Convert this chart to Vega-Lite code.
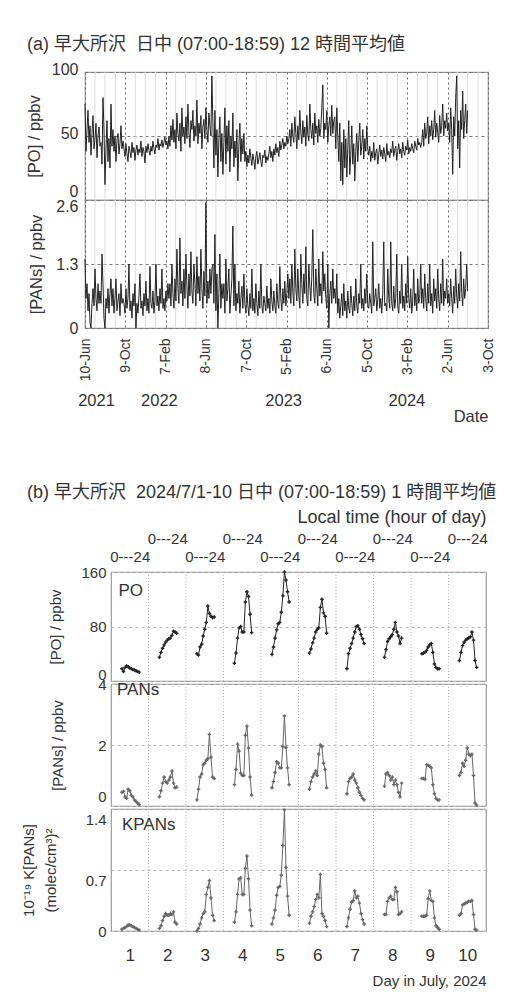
{
"$schema":"https://vega.github.io/schema/vega-lite/v6.json",
"background":"white",
"padding":{"left":20,"top":34,"right":0,"bottom":0},
"config":{
 "font":"Liberation Sans, Noto Sans CJK JP, sans-serif",
 "view":{"stroke":"#999","strokeWidth":1.2},
 "axis":{"ticks":false,"domain":false,"labelColor":"#333","titleColor":"#333","titleFontWeight":"normal","labelFontSize":15,"titleFontSize":15},
 "title":{"fontWeight":"normal","color":"#333","fontSize":18}
},
"datasets":{
"mg":[{"t":30},{"t":60},{"t":91},{"t":151},{"t":181},{"t":212},{"t":272},{"t":302},{"t":333},{"t":393},{"t":423},{"t":454},{"t":514},{"t":544},{"t":575},{"t":635},{"t":665},{"t":696},{"t":756},{"t":786},{"t":817},{"t":877},{"t":907},{"t":938},{"t":998},{"t":1028},{"t":1059},{"t":1119},{"t":1149},{"t":1180}],
"db":[{"x":2},{"x":3},{"x":4},{"x":5},{"x":6},{"x":7},{"x":8},{"x":9},{"x":10}],
"a":[
{"t":0,"p":75,"n":1.4},{"t":3,"p":38,"n":0.6},{"t":6,"p":55,"n":0.9},{"t":9,"p":70,"n":0.35},{"t":12,"p":45,"n":0.7},{"t":15,"p":58,"n":0.1},{"t":18,"p":35,"n":0},{"t":21,"p":52,"n":0.5},{"t":24,"p":66,"n":0.8},{"t":27,"p":40,"n":0.45},{"t":30,"p":48,"n":1.2},{"t":33,"p":60,"n":0.6},{"t":36,"p":33,"n":0.35},{"t":39,"p":50,"n":0.9},{"t":42,"p":57,"n":0.5},{"t":45,"p":42,"n":0.75},
{"t":48,"p":45,"n":0.5},{"t":51,"p":28,"n":1.5},{"t":54,"p":80,"n":0.9},{"t":57,"p":55,"n":0.2},{"t":60,"p":12,"n":0},{"t":63,"p":40,"n":0.6},{"t":66,"p":62,"n":0.4},{"t":69,"p":30,"n":0.8},{"t":72,"p":48,"n":0.3},{"t":75,"p":25,"n":0.7},{"t":78,"p":75,"n":1},
{"t":81,"p":42,"n":0.45},{"t":84,"p":55,"n":0.8},{"t":87,"p":38,"n":0.3},{"t":90,"p":50,"n":0.6},{"t":93,"p":30,"n":1},{"t":96,"p":47,"n":0.35},{"t":99,"p":52,"n":0.55},{"t":102,"p":36,"n":0.7},{"t":105,"p":44,"n":0.25},{"t":108,"p":58,"n":0.9},{"t":111,"p":40,"n":0.5},{"t":114,"p":46,"n":0.6},
{"t":117,"p":40,"n":0.5},{"t":120,"p":34,"n":0.3},{"t":123,"p":44,"n":0.8},{"t":126,"p":36,"n":0.4},{"t":129,"p":30,"n":0.6},{"t":132,"p":42,"n":1.3},{"t":135,"p":38,"n":0.35},{"t":138,"p":33,"n":0.55},{"t":141,"p":45,"n":0.2},{"t":144,"p":37,"n":0.7},
{"t":147,"p":41,"n":0.45},{"t":150,"p":31,"n":0.9},{"t":153,"p":39,"n":0},{"t":156,"p":43,"n":0.5},{"t":159,"p":35,"n":0.3},{"t":162,"p":40,"n":0.65},{"t":165,"p":37,"n":1.1},{"t":168,"p":46,"n":0.4},{"t":171,"p":34,"n":0.55},{"t":174,"p":41,"n":0.25},
{"t":177,"p":38,"n":0.7},{"t":180,"p":29,"n":0.45},{"t":183,"p":42,"n":0.95},{"t":186,"p":37,"n":0.35},{"t":189,"p":44,"n":0.6},{"t":192,"p":39,"n":0.3},{"t":195,"p":35,"n":1.25},{"t":198,"p":42,"n":0.5},{"t":201,"p":38,"n":0.4},{"t":204,"p":46,"n":0.75},
{"t":207,"p":40,"n":0.3},{"t":210,"p":36,"n":0.55},{"t":213,"p":43,"n":1.3},{"t":216,"p":41,"n":0.45},{"t":219,"p":48,"n":0.65},{"t":222,"p":39,"n":0.35},{"t":225,"p":44,"n":0.8},{"t":228,"p":42,"n":0.5},{"t":231,"p":47,"n":1.2},{"t":234,"p":41,"n":0.4},
{"t":237,"p":45,"n":0.6},{"t":240,"p":49,"n":0.35},{"t":243,"p":43,"n":0.75},{"t":246,"p":46,"n":0.55},{"t":249,"p":40,"n":0.9},
{"t":252,"p":50,"n":0.6},{"t":255,"p":42,"n":0.9},{"t":258,"p":58,"n":0.45},{"t":261,"p":47,"n":1.3},{"t":264,"p":63,"n":0.7},{"t":267,"p":45,"n":0.4},{"t":270,"p":55,"n":1},{"t":273,"p":40,"n":0.55},{"t":276,"p":68,"n":1.6},{"t":279,"p":52,"n":0.8},
{"t":282,"p":46,"n":0.5},{"t":285,"p":60,"n":1.83},{"t":288,"p":38,"n":0.7},{"t":291,"p":72,"n":0.95},{"t":294,"p":50,"n":0.45},{"t":297,"p":57,"n":1.2},{"t":300,"p":44,"n":0.6},{"t":303,"p":65,"n":1.5},{"t":306,"p":48,"n":0.85},{"t":309,"p":75,"n":0.4},
{"t":312,"p":53,"n":1.1},{"t":315,"p":41,"n":0.65},{"t":318,"p":62,"n":1.55},{"t":321,"p":55,"n":0.75},{"t":324,"p":70,"n":0.5},{"t":327,"p":46,"n":1.3},{"t":330,"p":58,"n":0.9},{"t":333,"p":50,"n":0.45},{"t":336,"p":78,"n":1.45},{"t":339,"p":44,"n":0.7},
{"t":342,"p":60,"n":1.05},{"t":345,"p":52,"n":0.55},{"t":348,"p":66,"n":1.6},{"t":351,"p":40,"n":0.8},{"t":354,"p":57,"n":0.4},{"t":357,"p":63,"n":1.15},{"t":360,"p":48,"n":0.65},{"t":363,"p":72,"n":2.55},{"t":366,"p":55,"n":0.5},{"t":369,"p":45,"n":0.95},
{"t":372,"p":68,"n":0.6},{"t":375,"p":58,"n":1.2},{"t":378,"p":50,"n":0.7},
{"t":381,"p":97,"n":1.2},
{"t":384,"p":60,"n":1.3},{"t":387,"p":25,"n":0.5},{"t":390,"p":70,"n":1.9},{"t":393,"p":35,"n":0.35},{"t":396,"p":55,"n":1.1},{"t":399,"p":18,"n":0},{"t":402,"p":48,"n":0.7},{"t":405,"p":65,"n":1.5},{"t":408,"p":30,"n":0.4},{"t":411,"p":52,"n":0.9},
{"t":414,"p":20,"n":0.6},{"t":417,"p":45,"n":0.9},{"t":420,"p":72,"n":0.3},{"t":423,"p":28,"n":1.4},{"t":426,"p":58,"n":0.55},{"t":429,"p":38,"n":0.8},{"t":432,"p":62,"n":1.2},{"t":435,"p":22,"n":0.3},{"t":438,"p":50,"n":0.65},{"t":441,"p":40,"n":1},
{"t":444,"p":68,"n":2.07},{"t":447,"p":26,"n":0.45},{"t":450,"p":46,"n":1.3},{"t":453,"p":33,"n":0.35},{"t":456,"p":55,"n":0.7},{"t":459,"p":15,"n":0.5},{"t":462,"p":42,"n":0.95},{"t":465,"p":60,"n":0.3},{"t":468,"p":30,"n":0.6},{"t":471,"p":48,"n":0.85},
{"t":474,"p":36,"n":0.4},{"t":477,"p":52,"n":1.1},
{"t":480,"p":30,"n":0.5},{"t":483,"p":38,"n":0.3},{"t":486,"p":26,"n":0.8},{"t":489,"p":35,"n":0.45},{"t":492,"p":29,"n":0.25},{"t":495,"p":40,"n":0.7},{"t":498,"p":33,"n":0.4},{"t":501,"p":27,"n":1.2},{"t":504,"p":36,"n":0.35},{"t":507,"p":31,"n":0.6},
{"t":510,"p":24,"n":0.3},{"t":513,"p":34,"n":0.9},{"t":516,"p":38,"n":0.5},{"t":519,"p":28,"n":0.25},{"t":522,"p":32,"n":0.75},{"t":525,"p":37,"n":0.4},{"t":528,"p":30,"n":1.3},{"t":531,"p":26,"n":0.45},{"t":534,"p":35,"n":0.3},{"t":537,"p":33,"n":0.65},
{"t":540,"p":39,"n":0.5},{"t":543,"p":29,"n":0.35},{"t":546,"p":34,"n":0.85},{"t":549,"p":31,"n":0.4},{"t":552,"p":36,"n":0.6},{"t":555,"p":42,"n":0.3},{"t":558,"p":33,"n":1},{"t":561,"p":38,"n":0.55},{"t":564,"p":30,"n":0.35},{"t":567,"p":40,"n":0.75},
{"t":570,"p":35,"n":0.45},{"t":573,"p":44,"n":0.3},{"t":576,"p":37,"n":0.9},{"t":579,"p":41,"n":0.5},{"t":582,"p":34,"n":0.4},{"t":585,"p":46,"n":1.25},{"t":588,"p":39,"n":0.6},{"t":591,"p":43,"n":0.35},{"t":594,"p":48,"n":0.8},{"t":597,"p":40,"n":0.5},
{"t":600,"p":45,"n":0.95},{"t":603,"p":42,"n":0.45},{"t":606,"p":50,"n":0.7},{"t":609,"p":44,"n":1.1},
{"t":612,"p":48,"n":0.6},{"t":615,"p":55,"n":1},{"t":618,"p":42,"n":0.5},{"t":621,"p":60,"n":1.3},{"t":624,"p":50,"n":0.75},{"t":627,"p":45,"n":0.45},{"t":630,"p":65,"n":1.6},{"t":633,"p":52,"n":0.8},{"t":636,"p":40,"n":0.55},{"t":639,"p":58,"n":1.2},
{"t":642,"p":47,"n":0.65},{"t":645,"p":70,"n":0.4},{"t":648,"p":53,"n":1.5},{"t":651,"p":44,"n":0.9},{"t":654,"p":62,"n":0.5},{"t":657,"p":49,"n":1.1},{"t":660,"p":57,"n":0.7},{"t":663,"p":42,"n":1.65},{"t":666,"p":66,"n":0.6},{"t":669,"p":51,"n":0.45},
{"t":672,"p":46,"n":1.3},{"t":675,"p":75,"n":0.85},{"t":678,"p":55,"n":0.55},{"t":681,"p":48,"n":1.05},{"t":684,"p":60,"n":2},{"t":687,"p":43,"n":0.7},{"t":690,"p":68,"n":0.5},{"t":693,"p":52,"n":1.2},{"t":696,"p":58,"n":0.8},{"t":699,"p":45,"n":0.45},
{"t":702,"p":63,"n":1.4},{"t":705,"p":50,"n":0.65},{"t":708,"p":56,"n":0.9},{"t":711,"p":72,"n":0.5},{"t":714,"p":90,"n":1.55},{"t":717,"p":48,"n":0.75},{"t":720,"p":60,"n":1.1},{"t":723,"p":55,"n":0.6},{"t":726,"p":70,"n":0.4},{"t":729,"p":45,"n":1.3},
{"t":732,"p":58,"n":0},{"t":735,"p":65,"n":0.7},{"t":738,"p":50,"n":0.95},{"t":741,"p":74,"n":0.5},{"t":744,"p":52,"n":1.2},{"t":747,"p":62,"n":0.6},
{"t":750,"p":65,"n":0.8},{"t":753,"p":40,"n":0.5},{"t":756,"p":72,"n":1.1},{"t":759,"p":50,"n":0.3},{"t":762,"p":30,"n":0.6},{"t":765,"p":60,"n":0.2},{"t":768,"p":15,"n":0.45},{"t":771,"p":45,"n":0.7},{"t":774,"p":12,"n":0.25},{"t":777,"p":55,"n":0.9},
{"t":780,"p":25,"n":0.35},{"t":783,"p":48,"n":0.55},{"t":786,"p":18,"n":0.2},{"t":789,"p":40,"n":0.75},{"t":792,"p":62,"n":0.4},{"t":795,"p":20,"n":0.3},{"t":798,"p":35,"n":0.85},{"t":801,"p":58,"n":0.5},{"t":804,"p":28,"n":0.25},{"t":807,"p":44,"n":0.65},
{"t":810,"p":15,"n":0.35},{"t":813,"p":38,"n":1},{"t":816,"p":52,"n":0.45},{"t":819,"p":30,"n":0.3},{"t":822,"p":46,"n":0.7},{"t":825,"p":60,"n":0.5},{"t":828,"p":35,"n":1.3},{"t":831,"p":42,"n":0.4},{"t":834,"p":55,"n":0.6},{"t":837,"p":32,"n":0.35},
{"t":840,"p":48,"n":0.8},{"t":843,"p":38,"n":0.5},{"t":846,"p":58,"n":1.1},{"t":849,"p":40,"n":0.45},
{"t":852,"p":35,"n":0.4},{"t":855,"p":42,"n":0.7},{"t":858,"p":30,"n":0.5},{"t":861,"p":38,"n":0.3},{"t":864,"p":33,"n":1.75},{"t":867,"p":45,"n":0.45},{"t":870,"p":31,"n":0.6},{"t":873,"p":37,"n":0.8},{"t":876,"p":40,"n":0.35},{"t":879,"p":28,"n":0.55},
{"t":882,"p":36,"n":0.9},{"t":885,"p":43,"n":0.4},{"t":888,"p":34,"n":0.6},{"t":891,"p":39,"n":0.3},{"t":894,"p":32,"n":0.7},{"t":897,"p":41,"n":1.75},{"t":900,"p":36,"n":0.45},{"t":903,"p":30,"n":0.5},{"t":906,"p":44,"n":0.35},{"t":909,"p":35,"n":1.2},
{"t":912,"p":38,"n":0.6},{"t":915,"p":33,"n":0.4},{"t":918,"p":40,"n":1.75},{"t":921,"p":37,"n":0.5},{"t":924,"p":46,"n":0.35},{"t":927,"p":34,"n":0.85},{"t":930,"p":39,"n":0.4},{"t":933,"p":42,"n":0.6},{"t":936,"p":31,"n":1.5},{"t":939,"p":38,"n":0.45},
{"t":942,"p":44,"n":0.3},{"t":945,"p":36,"n":0.75},{"t":948,"p":40,"n":0.5},{"t":951,"p":33,"n":1.3},{"t":954,"p":45,"n":0.4},{"t":957,"p":38,"n":0.65},{"t":960,"p":35,"n":0.35},{"t":963,"p":42,"n":0.9},{"t":966,"p":39,"n":0.5},{"t":969,"p":47,"n":1.45},
{"t":972,"p":36,"n":0.6},{"t":975,"p":41,"n":0.4},{"t":978,"p":38,"n":0.8},{"t":981,"p":44,"n":0.3},{"t":984,"p":40,"n":0.55},{"t":987,"p":37,"n":1.2},{"t":990,"p":46,"n":0.45},{"t":993,"p":42,"n":0.7},{"t":996,"p":39,"n":0.35},{"t":999,"p":48,"n":1},
{"t":1002,"p":43,"n":0.5},{"t":1005,"p":45,"n":0.6},{"t":1008,"p":41,"n":1.3},
{"t":1011,"p":45,"n":0.5},{"t":1014,"p":55,"n":0.8},{"t":1017,"p":42,"n":0.4},{"t":1020,"p":60,"n":1.1},{"t":1023,"p":48,"n":0.6},{"t":1026,"p":52,"n":0.35},{"t":1029,"p":65,"n":0.9},{"t":1032,"p":44,"n":0.5},{"t":1035,"p":58,"n":1.3},{"t":1038,"p":50,"n":0.45},
{"t":1041,"p":62,"n":0.7},{"t":1044,"p":47,"n":0.3},{"t":1047,"p":55,"n":1},{"t":1050,"p":70,"n":0.55},{"t":1053,"p":49,"n":0.8},{"t":1056,"p":60,"n":0.4},{"t":1059,"p":53,"n":1.2},{"t":1062,"p":45,"n":0.6},{"t":1065,"p":66,"n":0.35},{"t":1068,"p":52,"n":0.9},
{"t":1071,"p":58,"n":0.5},{"t":1074,"p":75,"n":1.4},{"t":1077,"p":50,"n":0.45},{"t":1080,"p":62,"n":0.75},{"t":1083,"p":56,"n":0.6},{"t":1086,"p":68,"n":1},{"t":1089,"p":54,"n":0.5},
{"t":1092,"p":60,"n":0.7},{"t":1095,"p":45,"n":0.45},{"t":1098,"p":72,"n":1},{"t":1101,"p":55,"n":0.6},{"t":1104,"p":20,"n":0.3},{"t":1107,"p":65,"n":0.85},{"t":1110,"p":50,"n":0.5},{"t":1113,"p":80,"n":1.2},{"t":1116,"p":97,"n":0.65},{"t":1119,"p":40,"n":0.4},
{"t":1122,"p":62,"n":0.9},{"t":1125,"p":25,"n":0.55},{"t":1128,"p":70,"n":1.55},{"t":1131,"p":55,"n":0.7},{"t":1134,"p":85,"n":0.45},{"t":1137,"p":48,"n":1},{"t":1140,"p":62,"n":0.6},{"t":1143,"p":75,"n":0.8},{"t":1146,"p":52,"n":1.3},{"t":1149,"p":70,"n":0.75}
],
"b":[
{"d":1,"x":1.292,"po":18,"pa":0.45,"k":0.02},{"d":1,"x":1.333,"po":14,"pa":0.48,"k":0.03},{"d":1,"x":1.375,"po":20,"pa":0.3,"k":0.04},{"d":1,"x":1.417,"po":22,"pa":0.25,"k":0.05},{"d":1,"x":1.458,"po":21,"pa":0.55,"k":0.07},{"d":1,"x":1.5,"po":19,"pa":0.5,"k":0.07},{"d":1,"x":1.542,"po":18,"pa":0.35,"k":0.06},{"d":1,"x":1.583,"po":17,"pa":0.3,"k":0.05},{"d":1,"x":1.625,"po":16,"pa":0.2,"k":0.04},{"d":1,"x":1.667,"po":15,"pa":0.15,"k":0.03},{"d":1,"x":1.708,"po":14,"pa":0.1,"k":0.02},{"d":1,"x":1.75,"po":13,"pa":0.05,"k":0.01},
{"d":2,"x":2.292,"po":35,"pa":0.3,"k":0.03},{"d":2,"x":2.333,"po":42,"pa":0.5,"k":0.06},{"d":2,"x":2.375,"po":48,"pa":0.75,"k":0.12},{"d":2,"x":2.417,"po":53,"pa":0.95,"k":0.17},{"d":2,"x":2.458,"po":57,"pa":0.8,"k":0.2},{"d":2,"x":2.5,"po":60,"pa":0.75,"k":0.18},{"d":2,"x":2.542,"po":62,"pa":0.85,"k":0.18},{"d":2,"x":2.583,"po":63,"pa":0.95,"k":0.2},{"d":2,"x":2.625,"po":67,"pa":1.15,"k":0.19},{"d":2,"x":2.667,"po":73,"pa":0.75,"k":0.22},{"d":2,"x":2.708,"po":72,"pa":0.6,"k":0.1},{"d":2,"x":2.75,"po":70,"pa":0.62,"k":0.08},
{"d":3,"x":3.292,"po":40,"pa":0.2,"k":0},{"d":3,"x":3.333,"po":38,"pa":0.55,"k":0.03},{"d":3,"x":3.375,"po":50,"pa":0.95,"k":0.08},{"d":3,"x":3.417,"po":54,"pa":1.05,"k":0.15},{"d":3,"x":3.458,"po":66,"pa":1.35,"k":0.2},{"d":3,"x":3.5,"po":76,"pa":1.4,"k":0.22},{"d":3,"x":3.542,"po":86,"pa":1.5,"k":0.42},{"d":3,"x":3.583,"po":110,"pa":1.55,"k":0.5},{"d":3,"x":3.625,"po":99,"pa":2.35,"k":0.58},{"d":3,"x":3.667,"po":95,"pa":1.6,"k":0.38},{"d":3,"x":3.708,"po":93,"pa":0.95,"k":0.18},{"d":3,"x":3.75,"po":94,"pa":0.9,"k":0.12},
{"d":4,"x":4.292,"po":26,"pa":0.7,"k":0.1},{"d":4,"x":4.333,"po":41,"pa":1.2,"k":0.22},{"d":4,"x":4.375,"po":63,"pa":2.03,"k":0.42},{"d":4,"x":4.417,"po":78,"pa":1.8,"k":0.6},{"d":4,"x":4.458,"po":80,"pa":1.08,"k":0.61},{"d":4,"x":4.5,"po":72,"pa":1,"k":0.42},{"d":4,"x":4.542,"po":72,"pa":1,"k":0.42},{"d":4,"x":4.583,"po":116,"pa":2.32,"k":0.72},{"d":4,"x":4.625,"po":131,"pa":2.62,"k":0.86},{"d":4,"x":4.667,"po":124,"pa":1.9,"k":0.6},{"d":4,"x":4.708,"po":98,"pa":0.95,"k":0.24},{"d":4,"x":4.75,"po":71,"pa":0.36,"k":0.06},
{"d":5,"x":5.292,"po":39,"pa":0.6,"k":0.08},{"d":5,"x":5.333,"po":50,"pa":0.8,"k":0.15},{"d":5,"x":5.375,"po":63,"pa":1.1,"k":0.24},{"d":5,"x":5.417,"po":75,"pa":1.45,"k":0.41},{"d":5,"x":5.458,"po":84,"pa":1.4,"k":0.5},{"d":5,"x":5.5,"po":86,"pa":1.25,"k":0.51},{"d":5,"x":5.542,"po":101,"pa":1.25,"k":0.64},{"d":5,"x":5.583,"po":125,"pa":1.95,"k":0.98},{"d":5,"x":5.625,"po":160,"pa":2.95,"k":1.39},{"d":5,"x":5.667,"po":148,"pa":1.92,"k":0.73},{"d":5,"x":5.708,"po":131,"pa":1.25,"k":0.4},{"d":5,"x":5.75,"po":116,"pa":0.7,"k":0.18},
{"d":6,"x":6.292,"po":41,"pa":0.55,"k":0.09},{"d":6,"x":6.333,"po":47,"pa":0.8,"k":0.17},{"d":6,"x":6.375,"po":56,"pa":0.95,"k":0.22},{"d":6,"x":6.417,"po":63,"pa":1.05,"k":0.28},{"d":6,"x":6.458,"po":72,"pa":1.15,"k":0.36},{"d":6,"x":6.5,"po":76,"pa":1,"k":0.42},{"d":6,"x":6.542,"po":78,"pa":1.7,"k":0.38},{"d":6,"x":6.583,"po":108,"pa":2,"k":0.65},{"d":6,"x":6.625,"po":120,"pa":1.95,"k":0.2},{"d":6,"x":6.667,"po":100,"pa":1.4,"k":0.17},{"d":6,"x":6.708,"po":95,"pa":1.2,"k":0.12},{"d":6,"x":6.75,"po":70,"pa":0.6,"k":0.05},
{"d":7,"x":7.292,"po":18,"pa":0.4,"k":0.05},{"d":7,"x":7.333,"po":40,"pa":0.8,"k":0.15},{"d":7,"x":7.375,"po":48,"pa":0.9,"k":0.25},{"d":7,"x":7.417,"po":55,"pa":0.95,"k":0.33},{"d":7,"x":7.458,"po":63,"pa":1.05,"k":0.35},{"d":7,"x":7.5,"po":72,"pa":0.85,"k":0.46},{"d":7,"x":7.542,"po":80,"pa":0.75,"k":0.38},{"d":7,"x":7.583,"po":81,"pa":0.6,"k":0.4},{"d":7,"x":7.625,"po":76,"pa":0.45,"k":0.32},{"d":7,"x":7.667,"po":68,"pa":0.35,"k":0.2},{"d":7,"x":7.708,"po":62,"pa":0.25,"k":0.13},{"d":7,"x":7.75,"po":55,"pa":0.2,"k":0.08},
{"d":8,"x":8.292,"po":35,"pa":0.65,"k":0.19},{"d":8,"x":8.333,"po":46,"pa":1.05,"k":0.19},{"d":8,"x":8.375,"po":58,"pa":1.1,"k":0.34},{"d":8,"x":8.417,"po":62,"pa":1,"k":0.38},{"d":8,"x":8.458,"po":65,"pa":0.85,"k":0.4},{"d":8,"x":8.5,"po":68,"pa":0.95,"k":0.36},{"d":8,"x":8.542,"po":76,"pa":0.7,"k":0.36},{"d":8,"x":8.583,"po":86,"pa":0.85,"k":0.5},{"d":8,"x":8.625,"po":72,"pa":0.7,"k":0.45},{"d":8,"x":8.667,"po":66,"pa":0.45,"k":0.19},{"d":8,"x":8.708,"po":55,"pa":0.3,"k":0.2},{"d":8,"x":8.75,"po":63,"pa":0.75,"k":0.22},
{"d":9,"x":9.292,"po":40,"pa":0.9,"k":0.17},{"d":9,"x":9.333,"po":41,"pa":0.9,"k":0.17},{"d":9,"x":9.375,"po":42,"pa":0.88,"k":0.17},{"d":9,"x":9.417,"po":45,"pa":1.35,"k":0.18},{"d":9,"x":9.458,"po":50,"pa":1.33,"k":0.37},{"d":9,"x":9.5,"po":53,"pa":1.3,"k":0.46},{"d":9,"x":9.542,"po":55,"pa":1.25,"k":0.35},{"d":9,"x":9.583,"po":42,"pa":0.7,"k":0.34},{"d":9,"x":9.625,"po":25,"pa":0.4,"k":0.15},{"d":9,"x":9.667,"po":20,"pa":0.25,"k":0.06},{"d":9,"x":9.708,"po":18,"pa":0.2,"k":0.04},{"d":9,"x":9.75,"po":18,"pa":0.2,"k":0.02},
{"d":10,"x":10.292,"po":30,"pa":1,"k":0.18},{"d":10,"x":10.333,"po":42,"pa":1.1,"k":0.2},{"d":10,"x":10.375,"po":52,"pa":1.4,"k":0.3},{"d":10,"x":10.417,"po":57,"pa":1.3,"k":0.31},{"d":10,"x":10.458,"po":60,"pa":1.5,"k":0.32},{"d":10,"x":10.5,"po":62,"pa":1.9,"k":0.33},{"d":10,"x":10.542,"po":63,"pa":1.7,"k":0.34},{"d":10,"x":10.583,"po":65,"pa":1.65,"k":0.34},{"d":10,"x":10.625,"po":72,"pa":1.7,"k":0.35},{"d":10,"x":10.667,"po":60,"pa":1,"k":0.19},{"d":10,"x":10.708,"po":30,"pa":0.1,"k":0.02},{"d":10,"x":10.75,"po":20,"pa":0.03,"k":0.01}
]
},
"spacing":57,
"vconcat":[
{"bounds":"flush","spacing":0,"vconcat":[
 {"width":403,"height":128,
  "title":{"text":"(a) 早大所沢 \u00a0日中 (07:00-18:59) 12 時間平均値","anchor":"start","frame":"group","dx":-58,"offset":7.5},
  "encoding":{"x":{"field":"t","type":"quantitative","scale":{"domain":[0,1210],"nice":false,"zero":false},"axis":{"values":[0,121,242,363,484,605,726,847,968,1089,1210],"labels":false,"title":null,"grid":true,"gridDash":[2,3],"gridColor":"#666"}}},
  "layer":[
   {"data":{"name":"mg"},"mark":{"type":"rule","color":"#ddd","strokeWidth":1},"encoding":{}},
   {"data":{"name":"a"},"mark":{"type":"line","color":"#222","strokeWidth":1},
    "encoding":{"y":{"field":"p","type":"quantitative","scale":{"domain":[0,100],"nice":false},"axis":{"values":[0,50,100],"labelExpr":"'' + datum.value","title":"[PO] / ppbv","titleFontSize":16.5,"grid":true,"gridDash":[3,3],"gridColor":"#777","labelFontSize":16,"labelPadding":7,"titlePadding":9,"labelOffset":{"condition":{"test":"datum.value == 0","value":-9},"value":-3}}}}}
  ]},
 {"width":403,"height":128,
  "resolve":{"axis":{"x":"independent"}},
  "layer":[
   {"data":{"name":"mg"},"mark":{"type":"rule","color":"#ddd","strokeWidth":1},
    "encoding":{"x":{"field":"t","type":"quantitative","scale":{"domain":[0,1210],"nice":false,"zero":false},"axis":{"orient":"bottom","values":[33,222,595,965],"labelExpr":"datum.value < 100 ? '2021' : datum.value < 400 ? '2022' : datum.value < 800 ? '2023' : '2024'","offset":64,"labelPadding":0,"labelBaseline":"top","labelAngle":0,"labelFlush":false,"labelFontSize":16.5,"grid":false,"title":"Date","titleAnchor":"end","titlePadding":0,"titleFontSize":16.5}}}},
   {"data":{"name":"a"},"mark":{"type":"line","color":"#222","strokeWidth":1},
    "encoding":{"x":{"field":"t","type":"quantitative","scale":{"domain":[0,1210],"nice":false,"zero":false},"axis":{"orient":"bottom","values":[0,121,242,363,484,605,726,847,968,1089,1210],"labelExpr":"['10-Jun','9-Oct','7-Feb','8-Jun','7-Oct','5-Feb','6-Jun','5-Oct','3-Feb','2-Jun','3-Oct'][round(datum.value/121)]","labelAngle":270,"labelPadding":10,"labelFontSize":14,"labelFlush":false,"grid":true,"gridDash":[2,3],"gridColor":"#666","title":null}},
     "y":{"field":"n","type":"quantitative","scale":{"domain":[0,2.6],"nice":false},"axis":{"values":[0,1.3,2.6],"labelExpr":"'' + datum.value","title":"[PANs] / ppbv","titleFontSize":16.5,"grid":true,"gridDash":[3,3],"gridColor":"#777","labelFontSize":16,"labelPadding":7,"titlePadding":11,"labelOffset":{"condition":{"test":"datum.value > 2","value":6},"value":0}}}}}
  ]}
]},
{"bounds":"flush","spacing":0,"hconcat":[
 {"width":26,"height":10,"data":{"values":[]},"mark":"point","encoding":{},"view":{"stroke":null}},
 {"bounds":"flush","spacing":3,"vconcat":[
 {"width":375,"height":109,
  "title":{"text":"(b) 早大所沢 \u00a02024/7/1-10 日中 (07:00-18:59) 1 時間平均値","anchor":"start","frame":"group","dx":-84,"offset":6},
  "layer":[
   {"data":{"name":"db"},"mark":{"type":"rule","color":"#bbb","strokeDash":[1,2],"strokeWidth":1},
    "encoding":{"x":{"field":"x","type":"quantitative","scale":{"domain":[1,11],"nice":false,"zero":false},"axis":{"orient":"top","values":[1.5,2.5,3.5,4.5,5.5,6.5,7.5,8.5,9.5,10.5],"labelExpr":"'0---24'","labelFlush":false,"labelPadding":{"condition":{"test":"floor(datum.value) % 2 == 0","value":26},"value":8},"labelFontSize":15,"grid":false,"title":"Local time (hour of day)","titleAnchor":"end","titleFontSize":18,"titlePadding":5}}}},
   {"data":{"name":"b"},"mark":{"type":"line","color":"#222","strokeWidth":1,"point":{"shape":"cross","size":12,"filled":true,"color":"#222"}},
    "encoding":{"x":{"field":"x","type":"quantitative"},"detail":{"field":"d"},"y":{"field":"po","type":"quantitative","scale":{"domain":[0,160],"nice":false},"axis":{"values":[0,80,160],"labelExpr":"'' + datum.value","title":"[PO] / ppbv","grid":true,"gridDash":[3,3],"gridColor":"#bbb","labelPadding":5,"titlePadding":17,"titleFontSize":15,"labelOffset":{"condition":{"test":"datum.value == 0","value":-7},"value":0}}}}},
   {"data":{"values":[{"lab":"PO"}]},"mark":{"type":"text","align":"left","baseline":"middle","fontSize":17,"color":"#333"},"encoding":{"x":{"datum":1.2,"type":"quantitative"},"y":{"datum":132,"type":"quantitative"},"text":{"field":"lab","type":"nominal"}}}
  ]},
 {"width":375,"height":122,
  "layer":[
   {"data":{"name":"db"},"mark":{"type":"rule","color":"#bbb","strokeDash":[1,2],"strokeWidth":1},
    "encoding":{"x":{"field":"x","type":"quantitative","scale":{"domain":[1,11],"nice":false,"zero":false},"axis":null}}},
   {"data":{"name":"b"},"mark":{"type":"line","color":"#666","strokeWidth":1,"point":{"shape":"cross","size":12,"filled":true,"color":"#666"}},
    "encoding":{"x":{"field":"x","type":"quantitative","axis":null},"detail":{"field":"d"},"y":{"field":"pa","type":"quantitative","scale":{"domain":[0,4],"nice":false},"axis":{"values":[0,2,4],"labelExpr":"'' + datum.value","title":"[PANs] / ppbv","grid":true,"gridDash":[3,3],"gridColor":"#bbb","labelPadding":5,"titlePadding":32,"titleFontSize":15,"labelOffset":{"condition":{"test":"datum.value == 0","value":-10},"value":0}}}}},
   {"data":{"values":[{"lab":"PANs"}]},"mark":{"type":"text","align":"left","baseline":"middle","fontSize":17,"color":"#333"},"encoding":{"x":{"datum":1.16,"type":"quantitative","axis":null},"y":{"datum":3.8,"type":"quantitative"},"text":{"field":"lab","type":"nominal"}}}
  ]},
 {"width":375,"height":122,
  "layer":[
   {"data":{"name":"db"},"mark":{"type":"rule","color":"#bbb","strokeDash":[1,2],"strokeWidth":1},
    "encoding":{"x":{"field":"x","type":"quantitative","scale":{"domain":[1,11],"nice":false,"zero":false},"axis":{"orient":"bottom","values":[1.5,2.5,3.5,4.5,5.5,6.5,7.5,8.5,9.5,10.5],"labelExpr":"'' + floor(datum.value)","labelFlush":false,"labelPadding":16,"labelFontSize":17,"grid":false,"title":"Day in July, 2024","titleAnchor":"end","titleFontSize":15,"titlePadding":10}}}},
   {"data":{"name":"b"},"mark":{"type":"line","color":"#666","strokeWidth":1,"point":{"shape":"cross","size":12,"filled":true,"color":"#666"}},
    "encoding":{"x":{"field":"x","type":"quantitative"},"detail":{"field":"d"},"y":{"field":"k","type":"quantitative","scale":{"domain":[0,1.4],"nice":false},"axis":{"values":[0,0.7,1.4],"labelExpr":"'' + datum.value","title":["10⁻¹⁹ K[PANs]","(molec/cm³)²"],"grid":true,"gridDash":[3,3],"gridColor":"#bbb","labelPadding":5,"titlePadding":27,"titleFontSize":15,"titleLineHeight":22,"labelOffset":{"condition":{"test":"datum.value > 0.5","value":10},"value":0}}}}},
   {"data":{"values":[{"lab":"KPANs"}]},"mark":{"type":"text","align":"left","baseline":"middle","fontSize":17,"color":"#333"},"encoding":{"x":{"datum":1.29,"type":"quantitative"},"y":{"datum":1.215,"type":"quantitative"},"text":{"field":"lab","type":"nominal"}}}
  ]}
 ]}
]}
]
}
